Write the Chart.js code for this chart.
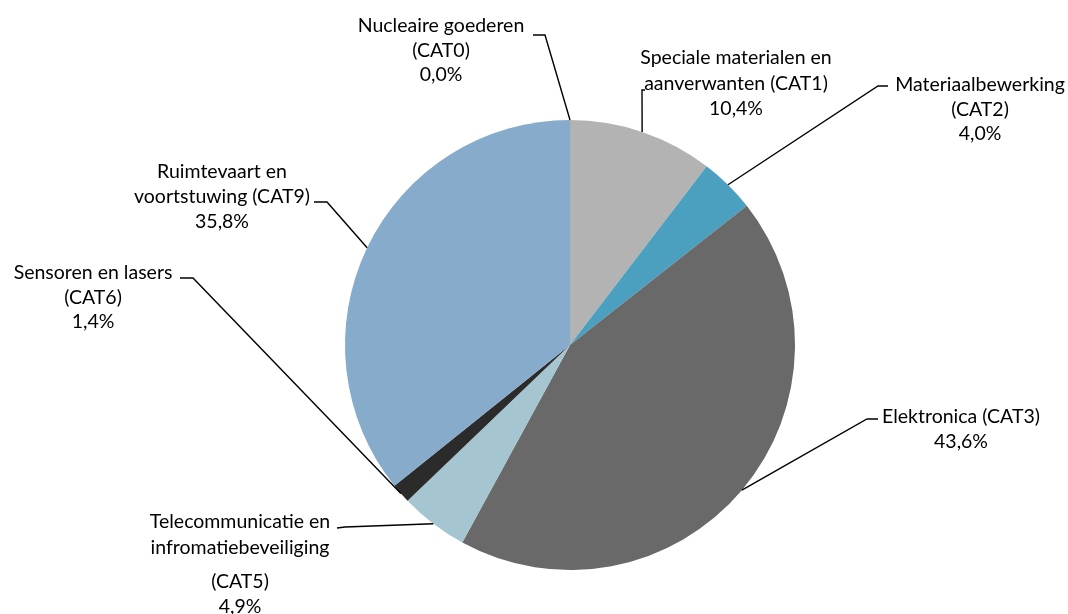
<!DOCTYPE html>
<html>
<head>
<meta charset="utf-8">
<script src="https://cdn.jsdelivr.net/npm/chart.js@4/dist/chart.umd.min.js"></script>
<style>
  html, body { margin: 0; padding: 0; background: #fff; }
  #wrap { width: 1068px; height: 614px; }
</style>
</head>
<body>
<div id="wrap"><canvas id="pieChart" width="1068" height="614"></canvas></div>
<script>
// categories and values (percent)
const categorieen = [
    ['Nucleaire goederen', '(CAT0)'],
    ['Speciale materialen en', 'aanverwanten (CAT1)'],
    ['Materiaalbewerking', '(CAT2)'],
    ['Elektronica (CAT3)'],
    ['Telecommunicatie en', 'infromatiebeveiliging', '(CAT5)'],
    ['Sensoren en lasers', '(CAT6)'],
    ['Ruimtevaart en', 'voortstuwing (CAT9)']
];
const aandeel = [0.0, 10.4, 4.0, 43.6, 4.9, 1.4, 35.8];
const kleuren = ['#9a9a9a', '#b3b3b3', '#4ba0bf', '#696969', '#a5c5d1', '#2b2b2b', '#86abcb'];

// label placement: text centre x, first line y, line heights, elbow of the leader line
const labelLayout = [
    { x: 441, y: 26, lh: [25, 24], elbow: [545, 35], tick: [533, 35] },
    { x: 736, y: 58, lh: [26, 25], elbow: [642, 90], tick: [645, 90] },
    { x: 980, y: 85, lh: [25, 24], elbow: [878, 86], tick: [888, 86] },
    { x: 961, y: 417, lh: [25], elbow: [867, 419], tick: [878, 419] },
    { x: 240, y: 522, lh: [26, 34, 25], elbow: [345, 527], tick: [337, 528] },
    { x: 93, y: 273, lh: [25, 24], elbow: [193, 278], tick: [180, 278] },
    { x: 222, y: 172, lh: [25, 25], elbow: [327, 202], tick: [314, 202] }
];

function fmt(v) {
    return v.toFixed(1).replace('.', ',') + '%';
}

const leaderLabels = {
    id: 'leaderLabels',
    afterDraw(chart) {
        const ctx = chart.ctx;
        const meta = chart.getDatasetMeta(0);
        ctx.save();
        ctx.font = "19.5px 'Lato', sans-serif";
        ctx.fillStyle = '#000';
        ctx.textAlign = 'center';
        ctx.textBaseline = 'middle';
        meta.data.forEach((arc, i) => {
            const lay = labelLayout[i];
            const mid = (arc.startAngle + arc.endAngle) / 2;
            const px = arc.x + arc.outerRadius * Math.cos(mid);
            const py = arc.y + arc.outerRadius * Math.sin(mid);

            ctx.strokeStyle = '#000';
            ctx.lineWidth = 1.4;
            ctx.beginPath();
            ctx.moveTo(lay.tick[0], lay.tick[1]);
            ctx.lineTo(lay.elbow[0], lay.elbow[1]);
            ctx.lineTo(px, py);
            ctx.stroke();

            const lines = categorieen[i].concat([fmt(aandeel[i])]);
            let y = lay.y;
            lines.forEach((t, k) => {
                ctx.fillText(t, lay.x, y);
                if (k < lay.lh.length) y += lay.lh[k];
            });
        });
        ctx.restore();
    }
};

new Chart(document.getElementById('pieChart').getContext('2d'), {
    type: 'pie',
    data: {
        labels: categorieen.map(c => c.join(' ')),
        datasets: [{
            data: aandeel,
            backgroundColor: kleuren,
            borderWidth: 0
        }]
    },
    options: {
        responsive: false,
        animation: false,
        layout: { padding: { top: 120, bottom: 44, left: 345, right: 273 } },
        plugins: {
            legend: { display: false },
            tooltip: { enabled: false }
        }
    },
    plugins: [leaderLabels]
});
</script>
</body>
</html>
